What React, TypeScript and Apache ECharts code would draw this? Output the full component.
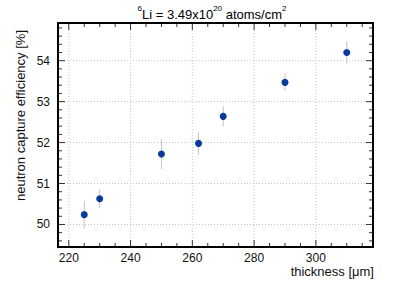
import React, { useEffect, useRef } from "react";
import * as echarts from "echarts";

const thickness = [225, 230, 250, 262, 270, 290, 310];
const efficiency = [50.24, 50.63, 51.72, 51.98, 52.64, 53.47, 54.2];
const errors = [0.34, 0.23, 0.37, 0.28, 0.25, 0.21, 0.27];
const xRange = [216.5, 318.5];
const yRange = [49.45, 54.92];
const xMajorTicks = [220, 240, 260, 280, 300];
const xMinorTicks = [225, 230, 235, 245, 250, 255, 265, 270, 275, 285, 290, 295, 305, 310, 315];
const yMajorTicks = [50, 51, 52, 53, 54];
const yMinorTicks = [49.6, 49.8, 50.2, 50.4, 50.6, 50.8, 51.2, 51.4, 51.6, 51.8, 52.2, 52.4, 52.6, 52.8, 53.2, 53.4, 53.6, 53.8, 54.2, 54.4, 54.6, 54.8];
const xTickLabels = ["220", "240", "260", "280", "300"];
const yTickLabels = ["50", "51", "52", "53", "54"];

const FONT = "Liberation Sans, Arial, Helvetica, sans-serif";
const GRID_COLOR = "#b9c8d8";
const TICK_COLOR = "#333";

export default function App() {
  const ref = useRef<HTMLDivElement>(null);
  useEffect(() => {
    if (!ref.current) return;
    const chart = echarts.init(ref.current, undefined, { renderer: "svg" });
    const points = thickness.map((x, i) => [x, efficiency[i]]);
    const errData = thickness.map((x, i) => [x, efficiency[i] - errors[i], efficiency[i] + errors[i]]);

    const axisRender = (params: any, api: any) => {
      const children: any[] = [];
      const x0 = api.coord([xRange[0], yRange[0]]);
      const x1 = api.coord([xRange[1], yRange[1]]);
      const left = x0[0], bottom = x0[1], right = x1[0], top = x1[1];
      const line = (a: number, b: number, c: number, d: number, stroke: string, dash?: number[]) => ({
        type: "line",
        shape: { x1: a, y1: b, x2: c, y2: d },
        style: { stroke, lineWidth: 1, lineDash: dash },
        silent: true,
      });
      xMajorTicks.forEach((v, i) => {
        const px = api.coord([v, yRange[0]])[0];
        children.push(line(px, bottom, px, top, GRID_COLOR, [1, 2]));
        children.push(line(px, bottom, px, bottom - 7, TICK_COLOR));
        children.push(line(px, top, px, top + 7, TICK_COLOR));
        children.push({
          type: "text",
          x: px,
          y: bottom + 11,
          style: { text: xTickLabels[i], fontFamily: FONT, fontSize: 12, fill: "#111", align: "center", verticalAlign: "middle" },
        });
      });
      xMinorTicks.forEach((v) => {
        const px = api.coord([v, yRange[0]])[0];
        children.push(line(px, bottom, px, bottom - 4, TICK_COLOR));
        children.push(line(px, top, px, top + 4, TICK_COLOR));
      });
      yMajorTicks.forEach((v, i) => {
        const py = api.coord([xRange[0], v])[1];
        children.push(line(left, py, right, py, GRID_COLOR, [1, 2]));
        children.push(line(left, py, left + 7, py, TICK_COLOR));
        children.push(line(right, py, right - 7, py, TICK_COLOR));
        children.push({
          type: "text",
          x: left - 8,
          y: py,
          style: { text: yTickLabels[i], fontFamily: FONT, fontSize: 12, fill: "#111", align: "right", verticalAlign: "middle" },
        });
      });
      yMinorTicks.forEach((v) => {
        const py = api.coord([xRange[0], v])[1];
        children.push(line(left, py, left + 4, py, TICK_COLOR));
        children.push(line(right, py, right - 4, py, TICK_COLOR));
      });
      children.push({
        type: "rect",
        shape: { x: left, y: top, width: right - left, height: bottom - top },
        style: { fill: "none", stroke: "#000", lineWidth: 2 },
        silent: true,
      });
      return { type: "group", children };
    };

    chart.setOption({
      animation: false,
      grid: { left: 58, top: 23, width: 315, height: 224, containLabel: false },
      xAxis: {
        type: "value",
        min: xRange[0],
        max: xRange[1],
        axisLine: { show: false },
        axisTick: { show: false },
        axisLabel: { show: false },
        splitLine: { show: false },
      },
      yAxis: {
        type: "value",
        min: yRange[0],
        max: yRange[1],
        axisLine: { show: false },
        axisTick: { show: false },
        axisLabel: { show: false },
        splitLine: { show: false },
      },
      series: [
        {
          type: "custom",
          data: [[0]],
          renderItem: axisRender,
          clip: false,
          silent: true,
          z: 1,
        },
        {
          type: "custom",
          data: errData,
          renderItem: (params: any, api: any) => {
            const lo = api.coord([api.value(0), api.value(1)]);
            const hi = api.coord([api.value(0), api.value(2)]);
            return {
              type: "line",
              shape: { x1: lo[0], y1: lo[1], x2: hi[0], y2: hi[1] },
              style: { stroke: "#c4c4c4", lineWidth: 1 },
            };
          },
          z: 2,
        },
        {
          type: "scatter",
          data: points,
          symbol: "circle",
          symbolSize: 7,
          itemStyle: { color: "#0a3a9e", opacity: 1 },
          z: 3,
        },
      ],
      graphic: [
        {
          type: "text",
          x: 212,
          y: 4,
          style: {
            text: "{s|6}{m|Li = 3.49x10}{s|20}{m| atoms/cm}{s|2}",
            align: "center",
            verticalAlign: "top",
            rich: {
              m: { fontFamily: FONT, fontSize: 13, color: "#111", lineHeight: 17, verticalAlign: "bottom" },
              s: { fontFamily: FONT, fontSize: 8, color: "#111", lineHeight: 17, verticalAlign: "top" },
            },
          },
        },
        {
          type: "text",
          x: 374,
          y: 271,
          style: { text: "thickness [μm]", fontFamily: FONT, fontSize: 13, fill: "#111", align: "right", verticalAlign: "middle" },
        },
        {
          type: "text",
          x: 20,
          y: 30,
          rotation: Math.PI / 2,
          style: { text: "neutron capture efficiency [%]", fontFamily: FONT, fontSize: 13, fill: "#111", align: "right", verticalAlign: "middle" },
        },
      ],
    });
    return () => chart.dispose();
  }, []);
  return <div ref={ref} style={{ width: 415, height: 281, position: "absolute", left: 0, top: 0 }} />;
}
